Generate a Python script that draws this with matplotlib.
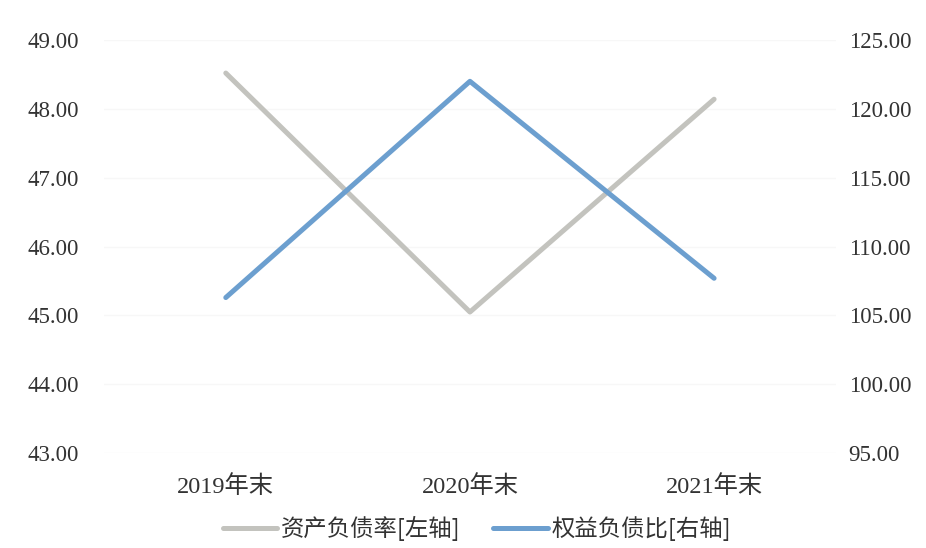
import matplotlib
matplotlib.use("Agg")
from matplotlib import pyplot as plt

# data
categories = ["2019年末", "2020年末", "2021年末"]
debt_ratio = [48.52, 45.05, 48.14]      # 资产负债率, left axis
equity_debt = [106.3, 122.0, 107.7]     # 权益负债比, right axis
left_ticks = [43, 44, 45, 46, 47, 48, 49]
right_ticks = [95, 100, 105, 110, 115, 120, 125]

fam = ["Liberation Serif", "Noto Sans CJK SC"]
gray = "#c3c3be"
blue = "#6c9fcf"
txt = "#333333"

fig = plt.figure(figsize=(9.26, 5.48), dpi=100)
ax = fig.add_axes([0.112, 0.173, 0.791, 0.754])
ax2 = ax.twinx()

x = list(range(len(categories)))
l1, = ax.plot(x, debt_ratio, color=gray, lw=3.6, solid_capstyle="round", label="资产负债率[左轴]")
l2, = ax2.plot(x, equity_debt, color=blue, lw=3.6, solid_capstyle="round", label="权益负债比[右轴]")

ax.set_xlim(-0.5, 2.5)
ax.set_ylim(43, 49)
ax2.set_ylim(95, 125)
ax.set_yticks(left_ticks)
ax2.set_yticks(right_ticks)
ax.set_yticklabels(["%.2f" % v for v in left_ticks], family=fam, fontsize=16.5, color=txt)
ax2.set_yticklabels(["%.2f" % v for v in right_ticks], family=fam, fontsize=16.5, color=txt)
ax.set_xticks(x)
ax.set_xticklabels(categories, family=fam, fontsize=17.5, color=txt)

ax.grid(axis="y", color="#f7f7f7", lw=1)
ax.set_axisbelow(True)
for a in (ax, ax2):
    for s in a.spines.values():
        s.set_visible(False)
    a.tick_params(length=0)
ax.tick_params(axis="y", pad=18)
ax2.tick_params(axis="y", pad=9)
ax.tick_params(axis="x", pad=16)

fig.legend(handles=[l1, l2], loc="center", bbox_to_anchor=(0.515, 0.035), ncol=2,
           frameon=False, prop={"family": ["Noto Sans CJK SC"], "size": 16.8},
           handlelength=2.35, columnspacing=1.4, handletextpad=0.15, labelcolor=txt)

fig.savefig("out.png", dpi=100, facecolor="white")
